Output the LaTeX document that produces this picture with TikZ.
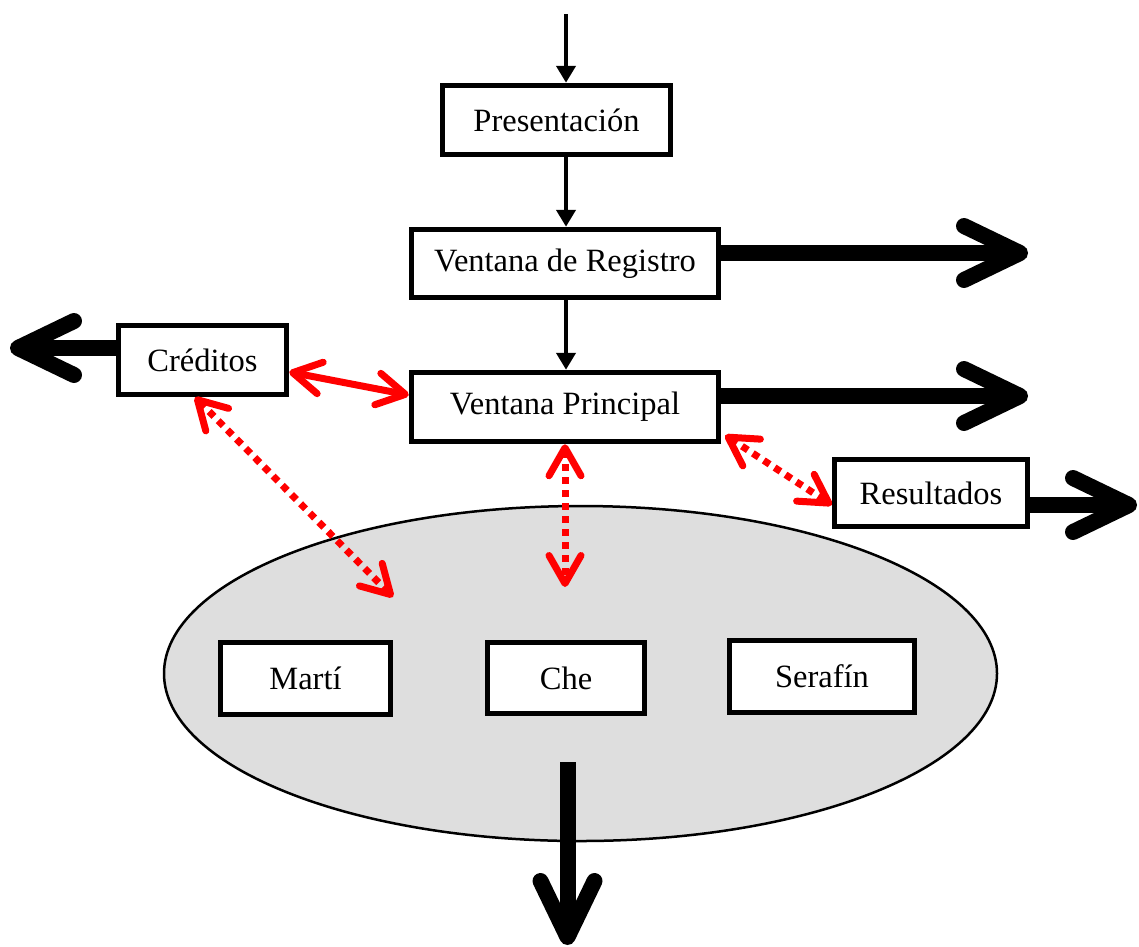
\documentclass[tikz,border=0pt]{standalone}
\usepackage{fontspec}
\setmainfont{Liberation Serif}
\usetikzlibrary{arrows.meta,shapes.geometric}

\begin{document}
\begin{tikzpicture}[x=1pt,y=-1pt,
  box/.style={draw, line width=5.5pt, fill=white, inner sep=0pt,
    font=\fontsize{32.5}{37}\selectfont},
  flow/.style={line width=4.5pt, -{Triangle[length=17pt,width=19pt]}},
  exit/.style={line width=16pt,
    -{Straight Barb[length=56pt,width=54pt,line width=16pt,round]}},
  rtip/.tip={Straight Barb[length=28pt,width=32pt,line width=7pt,round]},
  link/.style={red, line width=7pt, rtip-rtip},
  dotlink/.style={link, dash pattern=on 7pt off 6pt}
]
\useasboundingbox (0,0) rectangle (1139,946);

% group of characters
\node[ellipse, draw, line width=2.5pt, fill={rgb,255:red,222;green,222;blue,222},
      minimum width=833pt, minimum height=335pt, inner sep=0pt] (grupo) at (580.5,673.5) {};

% screens
\node[box, minimum width=228pt, minimum height=69pt] (pres) at (556.5,120) {Presentación};
\node[box, minimum width=307pt, minimum height=68pt] (reg)  at (565,263.5) {Ventana de Registro};
\node[box, minimum width=168pt, minimum height=69pt] (cred) at (202.5,360) {Créditos};
\node[box, minimum width=307pt, minimum height=69pt] (prin) at (565,407) {Ventana Principal};
\node[box, minimum width=193pt, minimum height=67pt] (res)  at (931,493) {Resultados};
\node[box, minimum width=170pt, minimum height=72pt] (marti) at (305.5,678.5) {Martí};
\node[box, minimum width=157pt, minimum height=71pt] (che)   at (566,678) {Che};
\node[box, minimum width=185pt, minimum height=72pt] (sera)  at (822,676.5) {Serafín};

% free ends
\coordinate (inicio) at (566,14);
\coordinate (salreg) at (1028,253);
\coordinate (salprin) at (1028,396);
\coordinate (salres) at (1137,505);
\coordinate (salcred) at (10,348);
\coordinate (grupoA) at (567.5,762);
\coordinate (salgrupo) at (567.5,945);
\coordinate (grupoCred) at (393,597);
\coordinate (grupoPrin) at (565,587);

% main flow
\draw[flow] (inicio) -- ([xshift=9.5pt]pres.north);
\draw[flow] ([xshift=9.5pt]pres.south) -- ([xshift=1pt]reg.north);
\draw[flow] ([xshift=1pt]reg.south) -- ([xshift=1pt]prin.north);

% exits
\draw[exit] ([yshift=10.5pt]reg.east) -- (salreg);
\draw[exit] ([yshift=11pt]prin.east) -- (salprin);
\draw[exit] ([yshift=-12pt]res.east) -- (salres);
\draw[exit] ([yshift=12pt]cred.west) -- (salcred);
\draw[exit] (grupoA) -- (salgrupo);

% two-way links
\draw[link] ([yshift=-12pt]cred.east) -- ([yshift=12pt]prin.west);
\draw[dotlink] ([xshift=-7.5pt]cred.south) -- (grupoCred);
\draw[dotlink] (prin.south) -- (grupoPrin);
\draw[dotlink] ([xshift=4pt,yshift=9pt]prin.south east) -- ([yshift=-12pt]res.west);
\end{tikzpicture}
\end{document}
